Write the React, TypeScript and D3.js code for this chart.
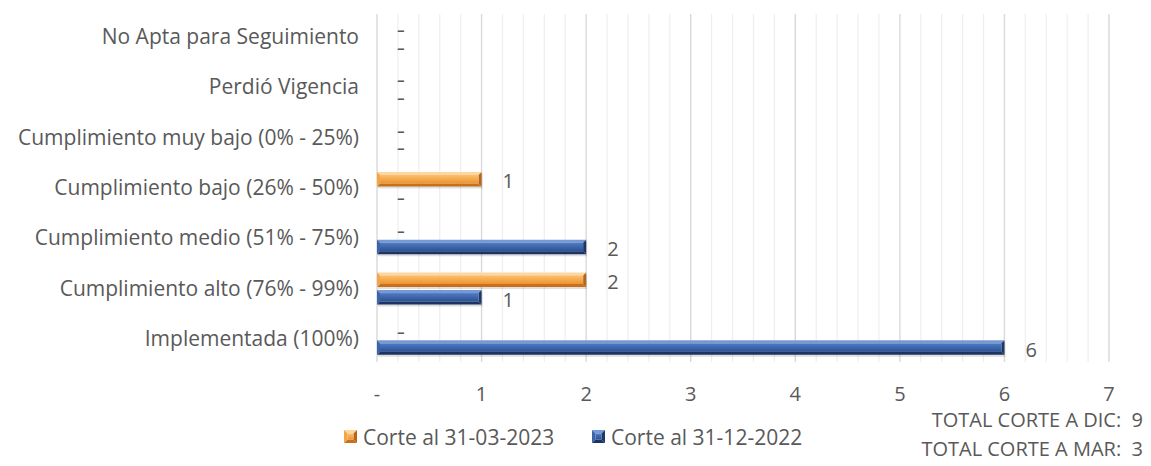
import React from "react";
import * as d3 from "d3";

const categories = [
  "No Apta para Seguimiento",
  "Perdió Vigencia",
  "Cumplimiento muy bajo (0% - 25%)",
  "Cumplimiento bajo (26% - 50%)",
  "Cumplimiento medio (51% - 75%)",
  "Cumplimiento alto (76% - 99%)",
  "Implementada (100%)",
];
const corteMar2023 = [0, 0, 0, 1, 0, 2, 0];
const corteDic2022 = [0, 0, 0, 0, 2, 1, 6];
const seriesNames = ["Corte al 31-03-2023", "Corte al 31-12-2022"];
const xTicks = [0, 1, 2, 3, 4, 5, 6, 7];

const W = 1151;
const H = 466;
const FONT = "'Open Sans', Lato, sans-serif";
const TEXT = "#595959";

const palettes = {
  orange: {
    top: "#fdd7a0",
    mainTop: "#fbc06e",
    mainBot: "#ee922f",
    bottom: "#c86f1b",
    left: "#f4a548",
    right: "#b8651a",
  },
  blue: {
    top: "#7599d3",
    mainTop: "#4f7bc6",
    mainBot: "#2c5091",
    bottom: "#1b3461",
    left: "#3c64aa",
    right: "#1d3867",
  },
};

type Pal = typeof palettes.blue;

function BevelBar({ x0, x1, y, h, pal, id, shadow = true, bevel = 3 }: { x0: number; x1: number; y: number; h: number; pal: Pal; id: string; shadow?: boolean; bevel?: number }) {
  const b = Math.min(bevel, (x1 - x0) / 3);
  const y1 = y + h;
  return (
    <g>
      {shadow && <rect x={x0 + 1} y={y + 2} width={x1 - x0} height={h} fill="#000" opacity={0.12} />}
      <polygon points={`${x0},${y} ${x1},${y} ${x1 - b},${y + b} ${x0 + b},${y + b}`} fill={pal.top} />
      <polygon points={`${x0},${y1} ${x1},${y1} ${x1 - b},${y1 - b} ${x0 + b},${y1 - b}`} fill={pal.bottom} />
      <polygon points={`${x0},${y} ${x0 + b},${y + b} ${x0 + b},${y1 - b} ${x0},${y1}`} fill={pal.left} />
      <polygon points={`${x1},${y} ${x1 - b},${y + b} ${x1 - b},${y1 - b} ${x1},${y1}`} fill={pal.right} />
      <rect x={x0 + b} y={y + b} width={Math.max(0, x1 - x0 - 2 * b)} height={Math.max(0, h - 2 * b)} fill={`url(#${id})`} />
    </g>
  );
}

export default function App() {
  const x = d3.scaleLinear().domain([0, 7]).range([377, 1109]);
  const y = d3.scaleBand().domain(categories).range([12, 364]).padding(0);
  const barH = 14.5;
  const gap = 3;
  const gridTop = 14;
  const gridBottom = 362;
  const minor = d3.range(0, 7.0001, 0.2).filter((v) => Math.abs(v - Math.round(v)) > 1e-6);

  const series = [
    { name: seriesNames[0], values: corteMar2023, pal: palettes.orange, grad: "gOrange", offset: -gap / 2 - barH },
    { name: seriesNames[1], values: corteDic2022, pal: palettes.blue, grad: "gBlue", offset: gap / 2 },
  ];

  const totalDic = d3.sum(corteDic2022);
  const totalMar = d3.sum(corteMar2023);

  return (
    <svg width={W} height={H} style={{ position: "absolute", left: 0, top: 0, background: "#fff" }} fontFamily={FONT}>
      <defs>
        {series.map((s) => (
          <linearGradient key={s.grad} id={s.grad} x1="0" y1="0" x2="0" y2="1">
            <stop offset="0" stopColor={s.pal.mainTop} />
            <stop offset="1" stopColor={s.pal.mainBot} />
          </linearGradient>
        ))}
      </defs>

      {/* vertical gridlines: minor every 0.2, major on each unit */}
      {minor.map((v) => (
        <line key={"m" + v} x1={x(v)} x2={x(v)} y1={gridTop} y2={gridBottom} stroke="#eeeeee" strokeWidth={1.2} />
      ))}
      {xTicks.map((v) => (
        <line key={"M" + v} x1={x(v)} x2={x(v)} y1={gridTop} y2={gridBottom} stroke="#d9d9d9" strokeWidth={1.4} />
      ))}

      {/* category labels */}
      {categories.map((c) => (
        <text key={c} x={359} y={(y(c) as number) + y.bandwidth() / 2 + 7} textAnchor="end" fontSize={21} fill={TEXT}>
          {c}
        </text>
      ))}

      {/* bars and value labels (zero values print as a dash) */}
      {series.map((s) =>
        categories.map((c, i) => {
          const v = s.values[i];
          const cy = (y(c) as number) + y.bandwidth() / 2;
          const by = cy + s.offset;
          const mid = by + barH / 2;
          return (
            <g key={s.name + c}>
              {v > 0 && <BevelBar x0={x(0)} x1={x(v)} y={by} h={barH} pal={s.pal} id={s.grad} />}
              {v > 0 ? (
                <text x={x(v) + 21} y={mid + 9.2} fontSize={20} fill={TEXT}>
                  {v}
                </text>
              ) : (
                <text
                  transform={`translate(${x(v) + 20},${mid + 6.7}) scale(2,1)`}
                  fontSize={12}
                  fontWeight={700}
                  fill={TEXT}
                >
                  -
                </text>
              )}
            </g>
          );
        })
      )}

      {/* x tick labels */}
      {xTicks.map((v) => (
        <text key={"t" + v} x={x(v)} y={401} textAnchor="middle" fontSize={20} fill={TEXT}>
          {v === 0 ? "-" : v}
        </text>
      ))}

      {/* legend */}
      {series.map((s, i) => {
        const lx = i === 0 ? 344 : 592;
        return (
          <g key={"lg" + s.name}>
            <BevelBar x0={lx} x1={lx + 13} y={430} h={13} pal={s.pal} id={s.grad} shadow={false} bevel={3.5} />
            <text x={lx + 19} y={445} fontSize={21} fill={TEXT}>
              {s.name}
            </text>
          </g>
        );
      })}

      {/* totals */}
      <text x={1143} y={427} textAnchor="end" fontSize={20} fill={TEXT} style={{ whiteSpace: "pre" }}>
        {`TOTAL CORTE A DIC:  ${totalDic}`}
      </text>
      <text x={1143} y={456} textAnchor="end" fontSize={20} fill={TEXT} style={{ whiteSpace: "pre" }}>
        {`TOTAL CORTE A MAR:  ${totalMar}`}
      </text>
    </svg>
  );
}
